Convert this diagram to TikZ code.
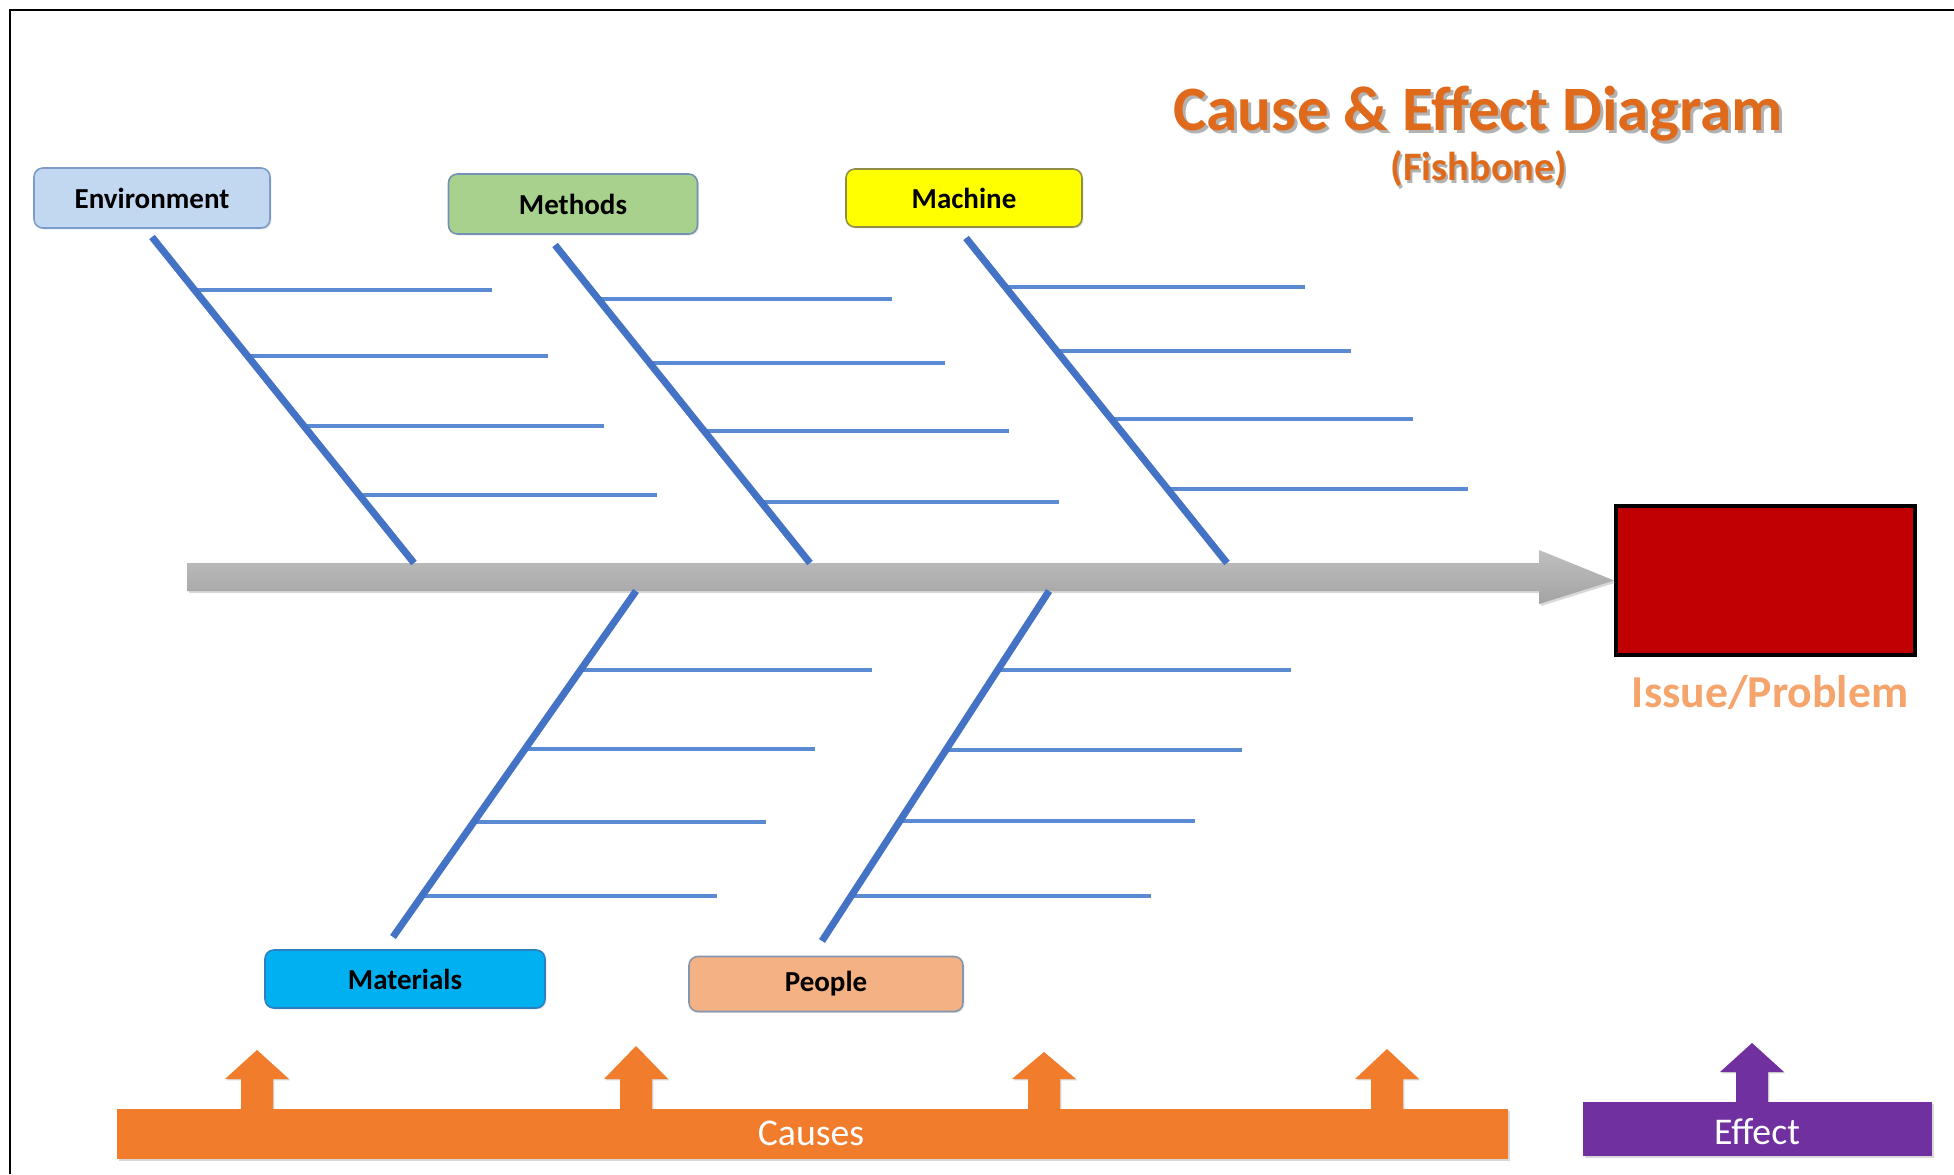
\documentclass[tikz,border=0pt]{standalone}
\usepackage{fontspec}
\setmainfont{Carlito}
\usetikzlibrary{shadows,calc}
\definecolor{bonecol}{HTML}{4472C4}
\definecolor{subcol}{HTML}{5A8AD2}
\definecolor{titlecol}{HTML}{DF6A1C}
\definecolor{issuecol}{HTML}{F5A46C}
\definecolor{envfill}{HTML}{C2D7F0}
\definecolor{envdraw}{HTML}{7D9CCB}
\definecolor{metfill}{HTML}{A9D18E}
\definecolor{metdraw}{HTML}{7491B5}
\definecolor{macfill}{HTML}{FFFF00}
\definecolor{macdraw}{HTML}{8F8F45}
\definecolor{matfill}{HTML}{00B0F0}
\definecolor{matdraw}{HTML}{2C7FC0}
\definecolor{pepfill}{HTML}{F4B183}
\definecolor{pepdraw}{HTML}{8497B0}
\definecolor{causecol}{HTML}{F07C2C}
\definecolor{effcol}{HTML}{7030A0}
\definecolor{redbox}{HTML}{C00000}
\tikzset{
  lbl/.style={draw=#1, line width=0.9pt, rounded corners=5pt, inner sep=0pt,
    font=\fontsize{16.5}{20}\selectfont\bfseries, text=black,
    drop shadow={shadow xshift=0.8pt, shadow yshift=-0.8pt, opacity=0.25}},
  bonestyle/.style={draw=bonecol, line width=4pt},
  subbone/.style={draw=subcol, line width=1.8pt},
  uparrow/.style={draw=none, drop shadow={shadow xshift=0.8pt, shadow yshift=-0.8pt, opacity=0.3}},
}
\newcommand{\uparr}[3]{% center x, top y, colour
  \path[uparrow, fill=#3] (#1-16,1109) -- (#1-16,1079) -- (#1-32,1079) -- (#1,#2)
     -- (#1+32,1079) -- (#1+16,1079) -- (#1+16,1109) -- cycle;}
\begin{document}
\begin{tikzpicture}[x=0.02cm,y=-0.02cm]
\useasboundingbox (0,0) rectangle (1954,1174);
\fill[white] (0,0) rectangle (1954,1174);
% frame
\draw[line width=1.7pt] (10,1174) -- (10,10) -- (1954,10);

% title
\node[anchor=base, font=\fontsize{36}{40}\selectfont\bfseries, text=black, opacity=0.3] at (1481,133) {Cause \& Effect Diagram};
\node[anchor=base, font=\fontsize{36}{40}\selectfont\bfseries, text=titlecol] (title) at (1478,130) {Cause \& Effect Diagram};
\node[anchor=base, font=\fontsize{23}{26}\selectfont\bfseries, text=black, opacity=0.3] at (1481,183) {(Fishbone)};
\node[anchor=base, font=\fontsize{23}{26}\selectfont\bfseries, text=titlecol] (sub) at (1479,180) {(Fishbone)};

% category boxes
\node[lbl=envdraw, fill=envfill, minimum width=4.72cm, minimum height=1.2cm] (env) at (152,198) {Environment};
\node[lbl=metdraw, fill=metfill, minimum width=4.98cm, minimum height=1.2cm] (met) at (573,204) {Methods};
\node[lbl=macdraw, fill=macfill, minimum width=4.72cm, minimum height=1.16cm] (mac) at (964,198) {Machine};
\node[lbl=matdraw, fill=matfill, minimum width=5.6cm, minimum height=1.16cm] (mat) at (405,979) {Materials};
\node[lbl=pepdraw, fill=pepfill, minimum width=5.48cm, minimum height=1.1cm] (pep) at (826,984) {People};

% problem box
\node[draw=black, line width=2.2pt, fill=redbox, minimum width=5.98cm, minimum height=2.98cm, inner sep=0pt,
  drop shadow={shadow xshift=1pt, shadow yshift=-1pt, opacity=0.35}] (issue) at (1765.5,580.5) {};
\node[anchor=base, font=\fontsize{26}{30}\selectfont\bfseries, text=issuecol] (issuelbl) at (1770,707) {Issue/Problem};

% spine
\coordinate (s0) at (187,577);
\path[top color=gray!50, bottom color=gray!72, drop shadow={shadow xshift=1pt, shadow yshift=-1.2pt, opacity=0.3}]
  (187,563) -- (1539,563) -- (1539,550) -- (issue.west) -- (1539,604) -- (1539,591) -- (187,591) -- cycle;

% bones
\coordinate (e1) at (152,237); \coordinate (e2) at (414,563);
\coordinate (m1) at (555,245); \coordinate (m2) at (810,563);
\coordinate (c1) at (966,238); \coordinate (c2) at (1227,563);
\coordinate (t1) at (636,591); \coordinate (t2) at (393,937);
\coordinate (p1) at (1049,591); \coordinate (p2) at (822,941);

\foreach \xs/\y/\xe in {197/290/492, 250/356/548, 306/426/604, 362/495/657}
  \draw[subbone] (\xs,\y) -- (\xe,\y);
\foreach \xs/\y/\xe in {600/299/892, 652/363/945, 706/431/1009, 763/502/1059}
  \draw[subbone] (\xs,\y) -- (\xe,\y);
\foreach \xs/\y/\xe in {1008/287/1305, 1059/351/1351, 1113/419/1413, 1170/489/1468}
  \draw[subbone] (\xs,\y) -- (\xe,\y);
\foreach \xs/\y/\xe in {583/670/872, 527/749/815, 476/822/766, 424/896/717}
  \draw[subbone] (\xs,\y) -- (\xe,\y);
\foreach \xs/\y/\xe in {1000/670/1291, 948/750/1242, 902/821/1195, 853/896/1151}
  \draw[subbone] (\xs,\y) -- (\xe,\y);

\draw[bonestyle] (e1) -- (e2);
\draw[bonestyle] (m1) -- (m2);
\draw[bonestyle] (c1) -- (c2);
\draw[bonestyle] (t1) -- (t2);
\draw[bonestyle] (p1) -- (p2);

% bottom bars
\uparr{257}{1050}{causecol}
\uparr{636}{1046}{causecol}
\uparr{1044}{1052}{causecol}
\uparr{1387}{1049}{causecol}
\node[fill=causecol, minimum width=27.82cm, minimum height=1.0cm, inner sep=0pt,
  drop shadow={shadow xshift=1pt, shadow yshift=-1.2pt, opacity=0.3}] (causes) at (812.5,1134) {};
\node[anchor=base, font=\fontsize{21.5}{24}\selectfont, text=white] (causestxt) at (811,1145) {Causes};

\path[uparrow, fill=effcol] (1736,1102) -- (1736,1072) -- (1720,1072) -- (1752,1043)
     -- (1784,1072) -- (1768,1072) -- (1768,1102) -- cycle;
\node[fill=effcol, minimum width=6.98cm, minimum height=1.08cm, inner sep=0pt,
  drop shadow={shadow xshift=1pt, shadow yshift=-1.2pt, opacity=0.3}] (effect) at (1757.5,1129) {};
\node[anchor=base, font=\fontsize{21.5}{24}\selectfont, text=white] (efftxt) at (1757,1144) {Effect};
\end{tikzpicture}
\end{document}
